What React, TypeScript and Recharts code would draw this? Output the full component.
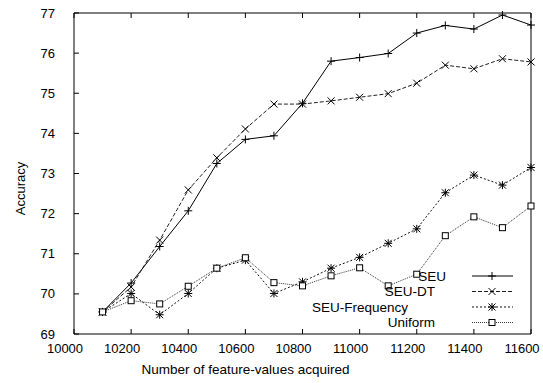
import { LineChart, Line, XAxis, YAxis, Legend, Label } from 'recharts'

const acquired = [10100, 10200, 10300, 10400, 10500, 10600, 10700, 10800, 10900, 11000, 11100, 11200, 11300, 11400, 11500, 11600]
const seu = [69.55, 70.27, 71.18, 72.07, 73.25, 73.85, 73.94, 74.75, 75.8, 75.89, 75.99, 76.5, 76.69, 76.6, 76.95, 76.7]
const seuDt = [69.55, 70.17, 71.34, 72.59, 73.39, 74.11, 74.73, 74.73, 74.81, 74.9, 74.99, 75.25, 75.7, 75.61, 75.86, 75.78]
const seuFrequency = [69.55, 70.01, 69.48, 70.01, 70.64, 70.84, 70.01, 70.3, 70.64, 70.91, 71.26, 71.62, 72.52, 72.96, 72.71, 73.15]
const uniform = [69.55, 69.83, 69.75, 70.19, 70.64, 70.9, 70.28, 70.2, 70.45, 70.65, 70.2, 70.49, 71.45, 71.92, 71.65, 72.19]

const xTicks = [10000, 10200, 10400, 10600, 10800, 11000, 11200, 11400, 11600]
const yTicks = [69, 70, 71, 72, 73, 74, 75, 76, 77]

type MarkerKind = 'plus' | 'cross' | 'star' | 'square'

interface SeriesDef {
  key: string
  name: string
  marker: MarkerKind
  dash?: string
  stroke: string
}

const series: SeriesDef[] = [
  { key: 'seu', name: 'SEU', marker: 'plus', stroke: '#000' },
  { key: 'seuDt', name: 'SEU-DT', marker: 'cross', dash: '4 2', stroke: '#222' },
  { key: 'seuFrequency', name: 'SEU-Frequency', marker: 'star', dash: '2 2', stroke: '#111' },
  { key: 'uniform', name: 'Uniform', marker: 'square', dash: '1 1', stroke: '#333' },
]

const data = acquired.map((x, i) => ({
  x,
  seu: seu[i],
  seuDt: seuDt[i],
  seuFrequency: seuFrequency[i],
  uniform: uniform[i],
}))

const FONT = "'Liberation Sans', Arial, sans-serif"
const W = 543
const H = 383

function Marker({ cx, cy, kind }: { cx?: number; cy?: number; kind: MarkerKind }) {
  if (cx == null || cy == null) return null
  const s = 3.5
  const plus = (
    <>
      <line x1={cx - 4} y1={cy} x2={cx + 4} y2={cy} />
      <line x1={cx} y1={cy - 4} x2={cx} y2={cy + 4} />
    </>
  )
  const cross = (
    <>
      <line x1={cx - s} y1={cy - s} x2={cx + s} y2={cy + s} />
      <line x1={cx - s} y1={cy + s} x2={cx + s} y2={cy - s} />
    </>
  )
  return (
    <g stroke="#000" strokeWidth={1} fill="none">
      {kind === 'plus' && plus}
      {kind === 'cross' && cross}
      {kind === 'star' && (
        <>
          {cross}
          <line x1={cx - 4} y1={cy} x2={cx + 4} y2={cy} />
          <line x1={cx} y1={cy - 4} x2={cx} y2={cy + 4} />
        </>
      )}
      {kind === 'square' && <rect x={cx - 3} y={cy - 3} width={6} height={6} fill="#fff" />}
    </g>
  )
}

// gnuplot style: ticks point inward, labels drawn by hand
function BottomTick(props: any) {
  const { x, y, payload } = props
  return (
    <g>
      <line x1={x} y1={y} x2={x} y2={y - 5} stroke="#000" />
      <text x={x - 9} y={y + 19} textAnchor="middle" fontSize={13} fontFamily={FONT} fill="#000">
        {payload.value}
      </text>
    </g>
  )
}

function TopTick(props: any) {
  const { x, y } = props
  return <line x1={x} y1={y} x2={x} y2={y + 5} stroke="#000" />
}

function LeftTick(props: any) {
  const { x, y, payload } = props
  return (
    <g>
      <line x1={x} y1={y} x2={x + 5} y2={y} stroke="#000" />
      <text x={x - 19} y={y + 4.5} textAnchor="end" fontSize={13} fontFamily={FONT} fill="#000">
        {payload.value}
      </text>
    </g>
  )
}

function RightTick(props: any) {
  const { x, y } = props
  return <line x1={x} y1={y} x2={x - 5} y2={y} stroke="#000" />
}

function YTitle(props: any) {
  const { viewBox } = props
  const cx = 20
  const cy = viewBox.y + viewBox.height / 2 + 15
  return (
    <text x={cx} y={cy} transform={`rotate(-90 ${cx} ${cy})`} textAnchor="middle" dominantBaseline="central" fontSize={13} fontFamily={FONT} fill="#000">
      Accuracy
    </text>
  )
}

function XTitle(props: any) {
  const { viewBox } = props
  return (
    <text x={viewBox.x + viewBox.width / 2 - 57} y={viewBox.y + 40} textAnchor="middle" fontSize={13.5} fontFamily={FONT} fill="#000">
      Number of feature-values acquired
    </text>
  )
}

// legend sits inside the plot, bottom right, labels right-aligned to odd offsets like the original
const legendRows = [276, 291.5, 307, 322.5]
const legendTextEnd = [446, 435, 408, 435]

function LegendBox() {
  return (
    <svg width={W} height={H} style={{ position: 'absolute', left: 0, top: 0, pointerEvents: 'none' }}>
      {series.map((s, i) => (
        <g key={s.key}>
          <text x={legendTextEnd[i]} y={legendRows[i] + 4.7} textAnchor="end" fontSize={13.5} fontFamily={FONT} fill="#000">
            {s.name}
          </text>
          <line x1={472} y1={legendRows[i]} x2={513} y2={legendRows[i]} stroke={s.stroke} strokeDasharray={s.dash} />
          <Marker cx={492} cy={legendRows[i]} kind={s.marker} />
        </g>
      ))}
    </svg>
  )
}

export default function App() {
  return (
    <div style={{ position: 'absolute', left: 0, top: 0, background: '#fff' }}>
      <LineChart width={W} height={H} data={data} margin={{ top: 12, right: 11, bottom: 0, left: 0 }}>
        <XAxis
          xAxisId="bottom"
          dataKey="x"
          type="number"
          domain={[10000, 11600]}
          ticks={xTicks}
          interval={0}
          height={49}
          tickSize={0}
          tickMargin={0}
          tickLine={false}
          axisLine={{ stroke: '#000' }}
          tick={<BottomTick />}
        >
          <Label content={<XTitle />} />
        </XAxis>
        <XAxis
          xAxisId="top"
          orientation="top"
          dataKey="x"
          type="number"
          domain={[10000, 11600]}
          ticks={xTicks}
          interval={0}
          height={1}
          tickSize={0}
          tickMargin={0}
          tickLine={false}
          axisLine={{ stroke: '#000' }}
          tick={<TopTick />}
        />
        <YAxis
          yAxisId="left"
          type="number"
          domain={[69, 77]}
          ticks={yTicks}
          interval={0}
          width={74}
          tickSize={0}
          tickMargin={0}
          tickLine={false}
          axisLine={{ stroke: '#000' }}
          tick={<LeftTick />}
        >
          <Label content={<YTitle />} />
        </YAxis>
        <YAxis
          yAxisId="right"
          orientation="right"
          type="number"
          domain={[69, 77]}
          ticks={yTicks}
          interval={0}
          width={1}
          tickSize={0}
          tickMargin={0}
          tickLine={false}
          axisLine={{ stroke: '#000' }}
          tick={<RightTick />}
        />
        {series.map((s) => (
          <Line
            key={s.key}
            xAxisId="bottom"
            yAxisId="left"
            dataKey={s.key}
            name={s.name}
            type="linear"
            stroke={s.stroke}
            strokeWidth={1}
            strokeDasharray={s.dash}
            dot={(p: any) => <Marker key={`${s.key}-${p.index}`} cx={p.cx} cy={p.cy} kind={s.marker} />}
            activeDot={false}
            isAnimationActive={false}
          />
        ))}
        <Legend
          layout="vertical"
          align="center"
          verticalAlign="middle"
          content={<LegendBox />}
          wrapperStyle={{ position: 'absolute', left: 0, top: 0, width: W, height: H }}
        />
      </LineChart>
    </div>
  )
}
